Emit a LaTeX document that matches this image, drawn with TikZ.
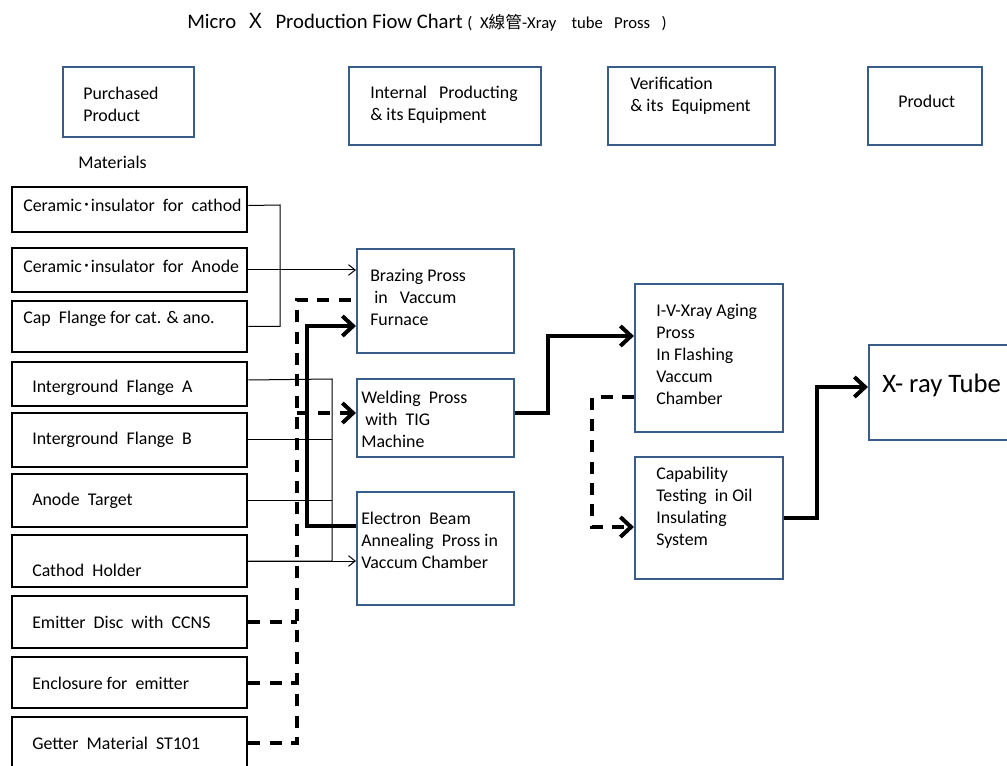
\documentclass[tikz,border=0pt]{standalone}
\usepackage{fontspec}
\setmainfont{Carlito}
\newfontfamily\cjk{Noto Sans CJK TC}
\definecolor{boxblue}{RGB}{56,93,138}
\usetikzlibrary{arrows.meta}

\begin{document}
\begin{tikzpicture}[x=0.75pt,y=-0.75pt,
    every node/.style={font=\fontsize{13.4}{16.5}\selectfont,inner sep=0pt},
    matbox/.style={draw,line width=2.2pt,minimum width=176.25pt},
    probox/.style={draw=boxblue,line width=1.6pt},
    txt/.style={anchor=west,align=left},
    thinline/.style={line width=0.75pt},
    thkline/.style={line width=3pt},
    dshline/.style={line width=3pt,dash pattern=on 9pt off 7pt},
    opentip/.style={-{Straight Barb[length=5pt,width=8pt]}},
    chevtip/.style={-{Straight Barb[length=8pt,width=15pt]}}]
  \useasboundingbox (0,0) rectangle (1007,766);
  \clip (0,0) rectangle (1007,766);

  %% Title
  \node[anchor=west,font=\fontsize{15.5}{18}\selectfont] (title) at (187,22)
        {Micro\ \ {\cjk Ｘ}\ \ Production Fiow Chart\
         {\fontsize{12.5}{14}\selectfont (\ \ X{\cjk 線管}-Xray\ \ \ \ tube\ \ \ Pross\ \ \ )}};

  %% Column headers
  \node[probox,minimum width=98.25pt,minimum height=52.5pt] (pur) at (128.5,102) {};
  \node[probox,minimum width=144pt,minimum height=58.5pt] (int) at (445,106) {};
  \node[probox,minimum width=125.25pt,minimum height=58.5pt] (ver) at (691.5,106) {};
  \node[probox,minimum width=85.5pt,minimum height=58.5pt] (prd) at (925,106) {};
  \node[txt] (t-pur) at (83,104.5) {Purchased\\Product};
  \node[txt] (t-int) at (370,104.5) {Internal\ \ \ Producting\\\& its Equipment};
  \node[txt] (t-ver) at (630,96) {Verification\\\& its\ \ Equipment};
  \node[txt] (t-prd) at (898,101) {Product};
  \node[txt] (t-mat) at (78,162) {Materials};

  %% Purchased materials (left)
  \node[matbox,minimum height=33.75pt] (m1) at (129.5,209.5) {};
  \node[matbox,minimum height=33pt] (m2) at (129.5,270) {};
  \node[matbox,minimum height=38.25pt] (m3) at (129.5,326.5) {};
  \node[matbox,minimum height=33pt] (m4) at (129.5,384) {};
  \node[matbox,minimum height=40.5pt] (m5) at (129.5,440) {};
  \node[matbox,minimum height=39.75pt] (m6) at (129.5,500.5) {};
  \node[matbox,minimum height=39pt] (m7) at (129.5,561) {};
  \node[matbox,minimum height=39pt] (m8) at (129.5,622) {};
  \node[matbox,minimum height=38.25pt] (m9) at (129.5,682.5) {};
  \node[matbox,minimum height=47.25pt] (m10) at (129.5,748.5) {};
  \node[txt] (t-m1) at (23,205) {Ceramic{\cjk ･}insulator\ \ for\ \ cathod};
  \node[txt] (t-m2) at (23,266) {Ceramic{\cjk ･}insulator\ \ for\ \ Anode};
  \node[txt] (t-m3) at (23,319) {Cap\ \ Flange for cat. \& ano.};
  \node[txt] (t-m4) at (32,388) {Interground\ \ Flange\ \ A};
  \node[txt] (t-m5) at (32,440) {Interground\ \ Flange\ \ B};
  \node[txt] (t-m6) at (32,501) {Anode\ \ Target};
  \node[txt] (t-m7) at (32,570) {Cathod\ \ Holder};
  \node[txt] (t-m8) at (32,622) {Emitter\ \ Disc\ \ with\ \ CCNS};
  \node[txt] (t-m9) at (32,683) {Enclosure for\ \ emitter};
  \node[txt] (t-m10) at (32,743) {Getter\ \ Material\ \ ST101};

  %% Internal producing (middle)
  \node[probox,minimum width=117.75pt,minimum height=78pt] (brz) at (435.5,301) {};
  \node[probox,minimum width=117.75pt,minimum height=58.5pt] (wld) at (435.5,418) {};
  \node[probox,minimum width=117.75pt,minimum height=84.75pt] (ebm) at (435.5,548.5) {};
  \node[txt] (t-brz) at (370,297) {Brazing Pross\\\hspace*{3pt}in\ \ \ Vaccum\\Furnace};
  \node[txt] (t-wld) at (361,419) {Welding\ \ Pross\\\hspace*{3pt}with\ \ TIG\\Machine};
  \node[txt] (t-ebm) at (361,540.5) {Electron\ \ Beam\\Annealing\ \ Pross in\\Vaccum Chamber};

  %% Verification (right)
  \node[probox,minimum width=111pt,minimum height=111pt] (ivx) at (709,358) {};
  \node[probox,minimum width=111pt,minimum height=91.5pt] (cap) at (709,518) {};
  \node[txt] (t-ivx) at (656,354.5)
        {I-V-Xray Aging\\Pross\\In Flashing\\Vaccum\\Chamber};
  \node[txt] (t-cap) at (656,507.5)
        {Capability\\Testing\ \ in Oil\\Insulating\\System};

  %% Product
  \node[probox,minimum width=128.25pt,minimum height=71.25pt] (xrt) at (954.5,392.5) {};
  \node[txt,font=\fontsize{20}{22}\selectfont] (t-xrt) at (882,385) {X- ray Tube};

  %% joints
  \coordinate (ca) at (280,205);
  \coordinate (cb) at (332,379);
  \coordinate (cd) at (297,300);
  \coordinate (ck) at (307,326);
  \coordinate (cw) at (548,336);
  \coordinate (cv) at (592,397);
  \coordinate (cv2) at (592,527);
  \coordinate (cx) at (817,387);

  %% thin connectors
  \draw[thinline] ([yshift=3pt]m1.east) -- (ca) |- (m3.east);
  \draw[thinline,opentip] (m2.east) -- (m2.east -| brz.west);
  \draw[thinline] ([yshift=3pt]m4.east) -- (cb) |- (m7.east);
  \draw[thinline] (m5.east) -- (m5.east -| cb);
  \draw[thinline] (m6.east) -- (m6.east -| cb);
  \draw[thinline,opentip] (m7.east) -- (m7.east -| ebm.west);

  %% dashed connectors
  \draw[dshline] (m8.east) -- (m8.east -| cd);
  \draw[dshline] (m9.east) -- (m9.east -| cd);
  \draw[dshline] ([yshift=4pt]m10.east) -| (cd) -- (cd -| brz.west);
  \draw[dshline,chevtip] (cd |- 0,413) -- (wld.west |- 0,413);
  \draw[dshline,chevtip] (cv -| ivx.west) -- (cv) -- (cv2) -- (cv2 -| cap.west);

  %% thick connectors
  \draw[thkline,chevtip] ([yshift=17pt]ebm.west) -| (ck) -- (ck -| brz.west);
  \draw[thkline,chevtip] ([yshift=4pt]wld.east) -| (cw) -- (cw -| ivx.west);
  \draw[thkline,chevtip] (cap.east) -| (cx) -- (cx -| xrt.west);
\end{tikzpicture}
\end{document}
